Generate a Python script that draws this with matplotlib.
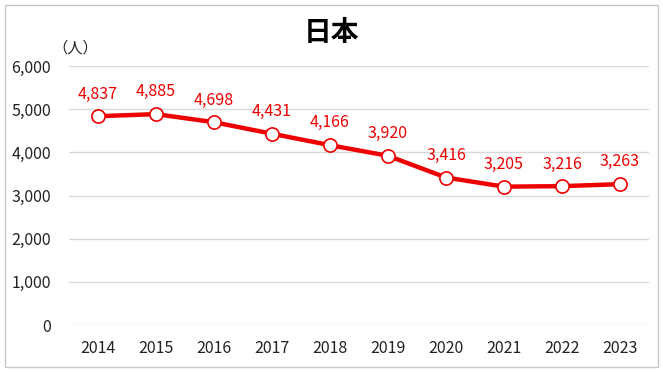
import matplotlib.pyplot as plt
from matplotlib.patches import Rectangle

plt.rcParams["font.family"] = ["Noto Sans CJK JP", "DejaVu Sans"]

years = ["2014", "2015", "2016", "2017", "2018", "2019", "2020", "2021", "2022", "2023"]
people = [4837, 4885, 4698, 4431, 4166, 3920, 3416, 3205, 3216, 3263]
y_ticks = [0, 1000, 2000, 3000, 4000, 5000, 6000]

red = "#ee0000"

fig = plt.figure(figsize=(6.63, 3.72), dpi=100)
fig.patches.append(Rectangle((0.008, 0.013), 0.984, 0.974, transform=fig.transFigure,
                             fill=False, edgecolor="#c8c8c8", linewidth=1))

ax = fig.add_axes([69 / 663, 1 - 325 / 372, 580 / 663, 259 / 372])
x = list(range(len(years)))
ax.plot(x, people, color=red, linewidth=3.2, marker="o", markersize=9.5,
        markerfacecolor="white", markeredgecolor=red, markeredgewidth=1.2, zorder=3)
for xi, v in zip(x, people):
    ax.annotate(f"{v:,}", (xi, v), xytext=(0, 16), textcoords="offset points",
                ha="center", va="center", color=red, fontsize=11.5)

ax.set_xlim(-0.5, len(years) - 0.5)
ax.set_ylim(0, 6000)
ax.set_xticks(x)
ax.set_xticklabels(years)
ax.set_yticks(y_ticks)
ax.set_yticklabels([f"{t:,}" for t in y_ticks])
ax.grid(axis="y", color="#d9d9d9", linewidth=1)
ax.set_axisbelow(True)
for s in ax.spines.values():
    s.set_visible(False)
ax.tick_params(length=0, labelsize=11.5, colors="#222222")
ax.tick_params(axis="x", pad=11)
ax.tick_params(axis="y", pad=13)

fig.text(331 / 663, 1 - 33 / 372, "日本", ha="center", va="center",
         fontsize=20, fontweight="bold")
fig.text(75 / 663, 1 - 48 / 372, "（人）", ha="center", va="center", fontsize=11,
         color="#222222")

fig.savefig("out.png", dpi=100)
